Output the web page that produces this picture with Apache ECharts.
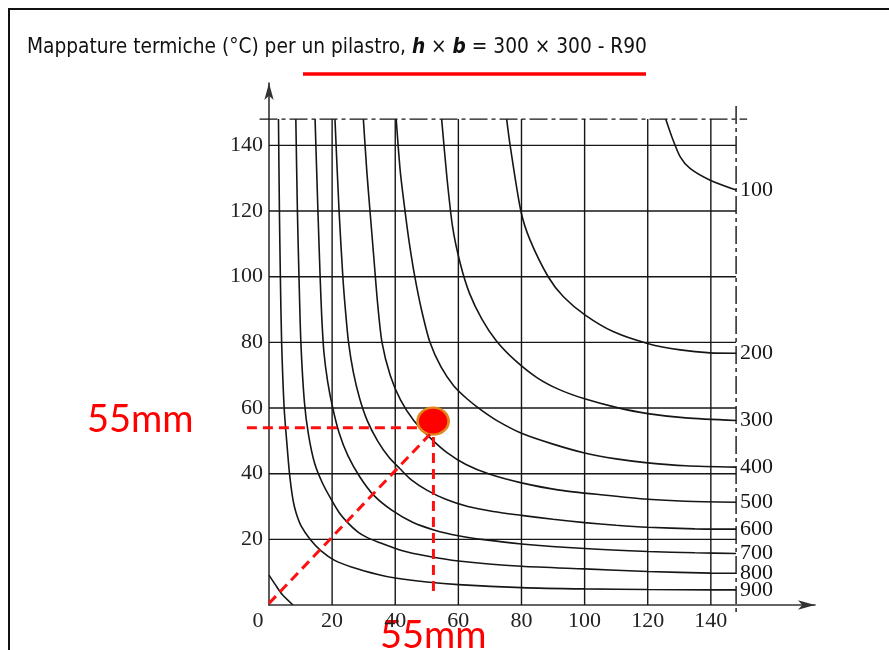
<!DOCTYPE html>
<html><head><meta charset="utf-8">
<script src="https://cdn.jsdelivr.net/npm/echarts@6/dist/echarts.min.js"></script>
<style>html,body{margin:0;padding:0;background:#fff}#c{width:889px;height:650px}</style>
</head><body><div id="c"></div>
<script>
// ---- axis ticks ----
const xTickLabels = [0, 20, 40, 60, 80, 100, 120, 140];
const yTickLabels = [20, 40, 60, 80, 100, 120, 140];
const sectionHalf = 148;          // symmetry edge of the 300x300 section (drawn ~148 mm)

// ---- isotherms (°C): [x mm, y mm] ----
const isoNames = ['100', '200', '300', '400', '500', '600', '700', '800', '900', ''];
const iso100 = [[125.7,148],[127.6,142.7],[130.3,136.5],[133.4,133],[139.8,129.4],[148,126.4]];
const iso200 = [[75.3,148],[76.4,140],[79.8,120],[82.7,111.2],[88.5,99.9],[93.3,93.9],[100.2,88.3],[109.2,83.2],[120.2,79.6],[130.3,77.7],[139.8,76.8],[148,76.7]];
const iso300 = [[54.7,148],[56.4,130],[58.2,115],[60.6,104],[63.5,95],[67.5,87],[72,80.5],[78,74.5],[85,69.2],[92,65.6],[100,62.8],[110,60.2],[120,58.3],[132,57],[148,56.2]];
const iso400 = [[40.3,148],[41.6,132],[43.1,120],[44.5,110],[46.2,100],[48.3,90],[51,80],[54.5,72.5],[58.5,66.8],[63,62.6],[67.5,59.2],[72.5,56],[80,52.3],[90,49],[100,46.3],[110,44.5],[120,43.3],[132,42.4],[148,42]];
const iso500 = [[29.9,148],[31,132],[32,120],[33.2,106],[34.4,92],[35.8,80],[38.4,70],[41.7,62.4],[45.8,56.3],[51,51],[56.3,46.5],[62.4,42.8],[70,39.8],[80,37.2],[92,35],[106,33.5],[120,32.2],[132,31.6],[148,31.3]];
const iso600 = [[20.9,148],[22.2,120],[23.4,100],[24.2,90],[25.2,80],[26.7,71],[28.7,63],[31.2,56],[34.4,50],[38,45],[41.5,41.5],[45,38.2],[50,35],[56,32.2],[63,30],[71,28.5],[80,27.3],[90,26.1],[100,25.1],[110,24.3],[120,23.7],[135,23.2],[148,23.1]];
const iso700 = [[14.6,148],[15.5,120],[16.2,100],[16.7,88],[17.4,77],[18.6,68],[20.2,60],[22.2,52.5],[25,45.5],[28.8,39],[33.3,33.3],[39,28.8],[45.5,25.2],[52.5,22.8],[60,21.1],[68,19.9],[80,18.6],[100,17.2],[120,16.3],[135,15.9],[148,15.7]];
const iso800 = [[8.5,148],[9,120],[9.5,100],[10.1,80],[11.2,62],[12.5,52],[14.5,43],[17,37],[19.8,32],[22.2,28.2],[25,25],[28.2,22.2],[31,20.6],[34.5,19.2],[42,16.6],[50,14.9],[60,13.4],[80,11.8],[100,11],[120,10.2],[140,9.7],[148,9.65]];
const iso900 = [[3,148],[3.3,120],[3.6,100],[4,80],[4.8,60],[5.6,50],[6.5,40],[7.6,32],[8.6,28],[10.2,24],[13.2,19.8],[16.5,16.5],[20.8,13.6],[26.1,11.6],[34.5,9.3],[40,8.2],[50,7],[60,6.2],[80,5.3],[100,4.9],[120,4.7],[140,4.6],[148,4.6]];
const iso1000 = [[0,9.1],[2,6.2],[4.2,3.2],[7.6,0]];
const isoCurves = [iso100, iso200, iso300, iso400, iso500, iso600, iso700, iso800, iso900, iso1000];

// ---- section edges (dash-dot), mm ----
const edgeTop = [[-3, sectionHalf], [151.5, sectionHalf]];
const edgeRight = [[sectionHalf, 152], [sectionHalf, -2.5]];

// ---- red annotation (55 mm reading) ----
const markPoint55 = [[52, 56]];
const guideHorizontal = [[-7, 54], [47.5, 54]];
const guideVertical = [[52.1, 51.2], [52.1, 2.4]];
const guideDiagonal = [[0, 0.5], [51, 52]];

const chart = echarts.init(document.getElementById('c'), null, {renderer: 'canvas'});
const serif = '"Liberation Serif", "DejaVu Serif", serif';
const titleFont = '"Liberation Sans Narrow", "Arial Narrow", "DejaVu Sans Condensed", sans-serif';
const ink = '#161616';

const series = [];
// grid lines, limited to the section
xTickLabels.filter(v => v > 0).forEach(v => series.push({
  type: 'line', data: [[v, 0], [v, sectionHalf]], symbol: 'none', silent: true, z: 1,
  lineStyle: {color: ink, width: 1.4}
}));
yTickLabels.forEach(v => series.push({
  type: 'line', data: [[0, v], [sectionHalf, v]], symbol: 'none', silent: true, z: 1,
  lineStyle: {color: ink, width: 1.4}
}));
// isotherms
isoCurves.forEach((c, i) => series.push({
  type: 'line', name: isoNames[i], data: c, symbol: 'none', smooth: 0.25, silent: true, z: 2,
  lineStyle: {color: ink, width: 1.6},
  endLabel: {show: isoNames[i] !== '', formatter: isoNames[i], fontFamily: serif, fontSize: 22, color: ink, distance: 4}
}));
series.push({type: 'scatter', data: markPoint55, symbol: 'circle', symbolSize: [31, 27], z: 6, silent: true,
  itemStyle: {color: '#ff0000', opacity: 1, borderColor: '#e0861a', borderWidth: 2.5}});

chart.setOption({
  animation: false,
  backgroundColor: '#fff',
  title: {
    text: 'Mappature termiche (°C) per un pilastro, {i|h} × {i|b} = 300 × 300 - R90',
    left: 27, top: 37, padding: 0,
    textStyle: {
      fontFamily: titleFont, fontSize: 20.7, fontWeight: 'normal', color: '#111',
      rich: {i: {fontFamily: titleFont, fontSize: 20.7, fontStyle: 'italic', fontWeight: 'bold', color: '#111'}}
    }
  },
  grid: {left: 269, right: 74, top: 83, bottom: 45},
  xAxis: {
    type: 'value', min: 0, max: 173, interval: 20,
    axisLine: {show: true, symbol: ['none', 'arrow'], symbolSize: [7, 17], lineStyle: {color: '#333', width: 1.6}},
    axisTick: {show: false}, splitLine: {show: false},
    axisLabel: {
      margin: 5, fontFamily: serif, fontSize: 22, color: '#222',
      formatter: v => xTickLabels.includes(v) ? (v === 0 ? '{z|0}' : String(v)) : '',
      rich: {z: {fontFamily: serif, fontSize: 22, color: '#222', padding: [0, 22, 0, 0]}}
    }
  },
  yAxis: {
    type: 'value', min: 0, max: 159, interval: 20,
    axisLine: {show: true, symbol: ['none', 'arrow'], symbolSize: [7, 17], lineStyle: {color: '#333', width: 1.6}},
    axisTick: {show: false}, splitLine: {show: false},
    axisLabel: {
      margin: 6, fontFamily: serif, fontSize: 22, color: '#222',
      formatter: v => yTickLabels.includes(v) ? String(v) : ''
    }
  },
  series: series
});

// lines that run past the plotting area: placed through the chart's own scales
const px = p => chart.convertToPixel({gridIndex: 0}, p);
const seg = (pts, style) => {
  const a = px(pts[0]), b = px(pts[1]);
  return {type: 'line', silent: true, z: 50, shape: {x1: a[0], y1: a[1], x2: b[0], y2: b[1]}, style: style};
};
const dashDot = {stroke: ink, lineWidth: 1.4, lineDash: [18, 4, 4, 4]};
const redDash = {stroke: '#ff1010', lineWidth: 3, lineDash: [10, 6]};
chart.setOption({
  graphic: [
    {type: 'polyline', shape: {points: [[9, 650], [9, 9], [889, 9]]}, style: {stroke: '#111', lineWidth: 2, fill: null}, silent: true},
    {type: 'line', shape: {x1: 303, y1: 74, x2: 646, y2: 74}, style: {stroke: '#ff0000', lineWidth: 3.5}, silent: true},
    seg(edgeTop, dashDot),
    seg(edgeRight, dashDot),
    seg(guideHorizontal, redDash),
    seg(guideVertical, redDash),
    seg(guideDiagonal, redDash),
    {type: 'text', left: 87, top: 401, style: {text: '55mm', fill: '#ff0000', font: '38px Lato, "Open Sans", sans-serif'}, silent: true},
    {type: 'text', left: 380, top: 617, style: {text: '55mm', fill: '#ff0000', font: '38px Lato, "Open Sans", sans-serif'}, silent: true}
  ]
});
</script></body></html>
